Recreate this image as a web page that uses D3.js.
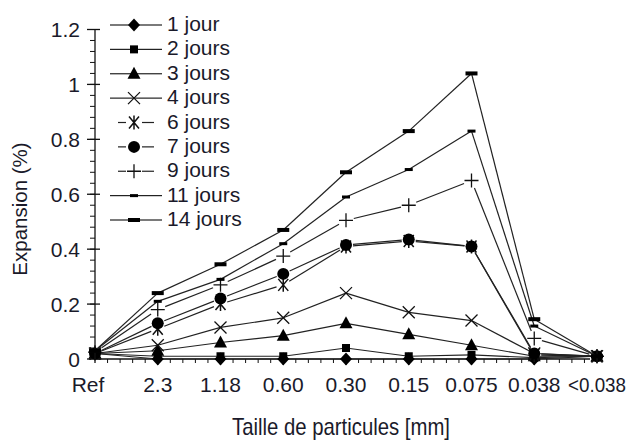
<!DOCTYPE html>
<html>
<head>
<meta charset="utf-8">
<script src="https://cdn.jsdelivr.net/npm/d3@7"></script>
<style>
body { margin: 0; background: #fff; }
text { font-family: "Liberation Sans", Arial, sans-serif; fill: #1a1a2a; }
</style>
</head>
<body>
<div id="chart"></div>
<script>
var width = 632;
var height = 443;

// categories (x axis)
var categories = ["Ref", "2.3", "1.18", "0.60", "0.30", "0.15", "0.075", "0.038", "<0.038"];
var yTicks = [0, 0.2, 0.4, 0.6, 0.8, 1, 1.2];

// series values (Expansion %)
var jour1  = [0.02, 0.0,  0.0,   0.0,   0.0,   0.0,   0.0,   0.0,   0.01];
var jour2  = [0.02, 0.01, 0.01,  0.01,  0.04,  0.01,  0.015, 0.005, 0.01];
var jour3  = [0.02, 0.03, 0.06,  0.085, 0.13,  0.09,  0.05,  0.01,  0.01];
var jour4  = [0.02, 0.05, 0.115, 0.15,  0.24,  0.17,  0.14,  0.02,  0.01];
var jour6  = [0.02, 0.11, 0.20,  0.27,  0.41,  0.43,  0.41,  0.015, 0.01];
var jour7  = [0.02, 0.13, 0.22,  0.31,  0.415, 0.435, 0.41,  0.02,  0.01];
var jour9  = [0.025, 0.18, 0.27, 0.375, 0.505, 0.56,  0.65,  0.075, 0.01];
var jour11 = [0.03, 0.21, 0.29,  0.42,  0.59,  0.69,  0.83,  0.12,  0.01];
var jour14 = [0.03, 0.24, 0.345, 0.47,  0.68,  0.83,  1.04,  0.145, 0.01];

var seriesNames = ["1 jour", "2 jours", "3 jours", "4 jours", "6 jours", "7 jours", "9 jours", "11 jours", "14 jours"];
var seriesValues = [jour1, jour2, jour3, jour4, jour6, jour7, jour9, jour11, jour14];
var symbols = ["diamond", "square", "triangle", "cross", "star", "circle", "plus", "dash", "bigdash"];
var gaps = [0, 0, 0, 0, 7, 7, 8, 0, 0];   // gap between line and marker

var svg = d3.select("#chart").append("svg")
    .attr("width", width)
    .attr("height", height);

var x = d3.scalePoint().domain(categories).range([95, 597]);
var y = d3.scaleLinear().domain([0, 1.2]).range([359, 29.5]);

// y axis
svg.append("line")
    .attr("x1", 95).attr("x2", 95)
    .attr("y1", y(0) + 4).attr("y2", y(1.2))
    .attr("stroke", "#111").attr("stroke-width", 1.3);
var minorY = d3.range(0, 1.2001, 0.04);
svg.selectAll(".ymin").data(minorY).enter().append("line")
    .attr("x1", 90).attr("x2", 95)
    .attr("y1", function(d) { return y(d); })
    .attr("y2", function(d) { return y(d); })
    .attr("stroke", "#111").attr("stroke-width", 1);
svg.selectAll(".ymaj").data(yTicks).enter().append("line")
    .attr("x1", 87).attr("x2", 100)
    .attr("y1", function(d) { return y(d); })
    .attr("y2", function(d) { return y(d); })
    .attr("stroke", "#111").attr("stroke-width", 1.3);
svg.selectAll(".ylab").data(yTicks).enter().append("text")
    .attr("x", 80)
    .attr("y", function(d) { return y(d) + 7.5; })
    .attr("text-anchor", "end")
    .attr("font-size", 21)
    .text(function(d) { return d; });

// x axis
svg.append("line")
    .attr("x1", 95).attr("x2", 590)
    .attr("y1", y(0)).attr("y2", y(0))
    .attr("stroke", "#111").attr("stroke-width", 1.3);
var step = x.step();
var minorX = [];
for (var i = 0; i < categories.length - 1; i++) {
    for (var k = 1; k < 5; k++) minorX.push(x(categories[i]) + k * step / 5);
}
svg.selectAll(".xmin").data(minorX.filter(function(d) { return d <= 590; })).enter().append("line")
    .attr("x1", function(d) { return d; })
    .attr("x2", function(d) { return d; })
    .attr("y1", y(0)).attr("y2", y(0) + 4)
    .attr("stroke", "#111").attr("stroke-width", 1);
svg.selectAll(".xmaj").data(categories.slice(1, -1)).enter().append("line")
    .attr("x1", function(d) { return x(d); })
    .attr("x2", function(d) { return x(d); })
    .attr("y1", y(0) - 3).attr("y2", y(0) + 6)
    .attr("stroke", "#111").attr("stroke-width", 1.3);
svg.selectAll(".xlab").data(categories).enter().append("text")
    .attr("x", function(d, i) { return i == 0 ? 88 : x(d); })
    .attr("y", 392)
    .attr("text-anchor", "middle")
    .attr("font-size", 21)
    .attr("textLength", function(d) { return d == "<0.038" ? 58 : null; })
    .attr("lengthAdjust", "spacingAndGlyphs")
    .text(function(d) { return d; });

// axis titles
svg.append("text")
    .attr("x", 341).attr("y", 435)
    .attr("text-anchor", "middle")
    .attr("font-size", 24)
    .attr("textLength", 218)
    .attr("lengthAdjust", "spacingAndGlyphs")
    .text("Taille de particules [mm]");
svg.append("text")
    .attr("transform", "translate(27,209) rotate(-90)")
    .attr("text-anchor", "middle")
    .attr("font-size", 20.5)
    .text("Expansion (%)");

// marker drawing
function drawSymbol(g, type, cx, cy) {
    if (type == "diamond") {
        g.append("path").attr("d", "M" + cx + "," + (cy - 6.5) + " L" + (cx + 6) + "," + cy + " L" + cx + "," + (cy + 6.5) + " L" + (cx - 6) + "," + cy + "Z").attr("fill", "#000");
    } else if (type == "square") {
        g.append("rect").attr("x", cx - 4).attr("y", cy - 4).attr("width", 8).attr("height", 8).attr("fill", "#000");
    } else if (type == "triangle") {
        g.append("path").attr("d", "M" + cx + "," + (cy - 7) + " L" + (cx + 6.5) + "," + (cy + 5) + " L" + (cx - 6.5) + "," + (cy + 5) + "Z").attr("fill", "#000");
    } else if (type == "cross") {
        g.append("path").attr("d", "M" + (cx - 6) + "," + (cy - 6) + " L" + (cx + 6) + "," + (cy + 6) + " M" + (cx + 6) + "," + (cy - 6) + " L" + (cx - 6) + "," + (cy + 6))
            .attr("stroke", "#111").attr("stroke-width", 1.3).attr("fill", "none");
    } else if (type == "star") {
        g.append("path").attr("d", "M" + (cx - 5) + "," + (cy - 6) + " L" + (cx + 5) + "," + (cy + 6) + " M" + (cx + 5) + "," + (cy - 6) + " L" + (cx - 5) + "," + (cy + 6) + " M" + cx + "," + (cy - 7) + " L" + cx + "," + (cy + 7))
            .attr("stroke", "#111").attr("stroke-width", 1.5).attr("fill", "none");
    } else if (type == "circle") {
        g.append("circle").attr("cx", cx).attr("cy", cy).attr("r", 6).attr("fill", "#000");
    } else if (type == "plus") {
        g.append("path").attr("d", "M" + (cx - 7) + "," + cy + " L" + (cx + 7) + "," + cy + " M" + cx + "," + (cy - 7) + " L" + cx + "," + (cy + 7))
            .attr("stroke", "#111").attr("stroke-width", 1.3).attr("fill", "none");
    } else if (type == "dash") {
        g.append("rect").attr("x", cx - 4).attr("y", cy - 1.5).attr("width", 8).attr("height", 3).attr("fill", "#000");
    } else if (type == "bigdash") {
        g.append("rect").attr("x", cx - 6).attr("y", cy - 2).attr("width", 12).attr("height", 4).attr("fill", "#000");
    }
}

// line segments with gaps around the markers
function drawSegment(g, x1, y1, x2, y2, gap) {
    var dx = x2 - x1, dy = y2 - y1;
    var len = Math.sqrt(dx * dx + dy * dy);
    if (len <= 2 * gap) return;
    var ux = dx / len, uy = dy / len;
    g.append("line")
        .attr("x1", x1 + ux * gap).attr("y1", y1 + uy * gap)
        .attr("x2", x2 - ux * gap).attr("y2", y2 - uy * gap)
        .attr("stroke", "#222").attr("stroke-width", 1.2);
}

var plot = svg.append("g");
seriesValues.forEach(function(vals, s) {
    var g = plot.append("g");
    for (var i = 0; i < vals.length - 1; i++) {
        drawSegment(g, x(categories[i]), y(vals[i]), x(categories[i + 1]), y(vals[i + 1]), gaps[s]);
    }
    vals.forEach(function(v, i) {
        drawSymbol(g, symbols[s], x(categories[i]), y(v));
    });
});

// legend
var legY = d3.scaleLinear().domain([0, 8]).range([25, 220]);
seriesNames.forEach(function(name, s) {
    var g = svg.append("g");
    var ly = legY(s);
    drawSegment(g, 110, ly, 134, ly, gaps[s] > 0 ? 8 : 0);
    drawSegment(g, 134, ly, 162, ly, gaps[s] > 0 ? 8 : 0);
    drawSymbol(g, symbols[s], 134, ly);
    g.append("text")
        .attr("x", 167).attr("y", ly + 6)
        .attr("font-size", 21)
        .text(name);
});
</script>
</body>
</html>
